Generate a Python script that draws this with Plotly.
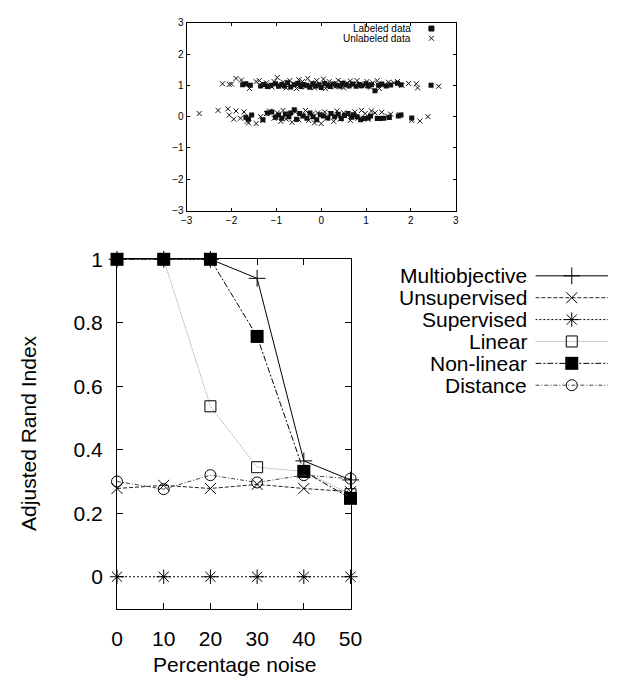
import plotly.graph_objects as go

W, H = 627, 681
FONT = "Liberation Sans, Arial, Helvetica, sans-serif"

# ---------------- data: inset scatter ----------------
upper_unlab_x = [-2.2, -2.05, -2.0, -1.9, -1.78, -1.72, -1.6, -1.45, -1.38, -1.3, -1.22, -1.1, -1.05, -0.98,
                 -0.9, -0.85, -0.78, -0.7, -0.62, -0.55, -0.5, -0.42, -0.35, -0.3, -0.22, -0.15, -0.1, -0.02,
                 0.05, 0.1, 0.18, 0.25, 0.3, 0.38, 0.45, 0.5, 0.58, 0.65, 0.72, 0.8, 0.88, 0.95, 1.02, 1.1,
                 1.15, 1.25, 1.3, 1.42, 1.5, 1.62, 1.7, 1.8, 1.95, 2.12, 2.15, 2.62]
upper_unlab_y = [1.05, 1.03, 1.04, 1.22, 1.17, 1.05, 0.9, 1.12, 1.15, 1.05, 1.08, 0.95, 1.12, 1.25,
                 0.98, 1.1, 0.92, 1.15, 1.05, 0.9, 1.18, 1.12, 0.95, 1.22, 1.08, 0.92, 1.15, 1.02,
                 1.2, 0.9, 1.12, 1.05, 0.95, 1.16, 1.1, 0.92, 1.08, 1.14, 1.02, 1.15, 1.05, 0.98, 1.12, 0.94,
                 1.08, 1.15, 0.9, 1.02, 1.1, 1.08, 1.12, 1.0, 1.06, 1.05, 0.92, 0.97]
upper_lab_x = [-1.75, -1.68, -1.58, -1.35, -1.28, -1.2, -1.12, -1.02, -0.95, -0.88, -0.82, -0.75, -0.68, -0.6,
               -0.52, -0.45, -0.4, -0.32, -0.25, -0.18, -0.12, -0.05, 0.0, 0.08, 0.15, 0.2, 0.28, 0.35,
               0.42, 0.48, 0.55, 0.62, 0.7, 0.78, 0.85, 0.9, 1.0, 1.05, 1.12, 1.2, 1.28, 1.35, 1.45, 1.55,
               1.7, 1.78, 2.45]
upper_lab_y = [1.02, 1.05, 1.0, 0.98, 1.03, 0.96, 1.0, 1.05, 0.97, 1.03, 0.98, 1.08, 0.95, 1.02,
               1.06, 0.96, 1.03, 1.0, 0.94, 1.05, 0.98, 1.02, 0.93, 1.06, 1.0, 0.96, 1.04, 1.0,
               0.97, 1.06, 1.02, 0.98, 1.04, 0.97, 1.03, 0.99, 1.05, 0.98, 1.02, 0.83, 1.0, 1.04, 0.98, 1.01,
               1.07, 1.02, 1.0]
lower_unlab_x = [-2.72, -2.3, -2.08, -2.05, -1.95, -1.9, -1.8, -1.72, -1.65, -1.62, -1.45, -1.35, -1.3, -1.22,
                 -1.15, -1.05, -0.98, -0.9, -0.85, -0.78, -0.72, -0.65, -0.58, -0.5, -0.42, -0.35, -0.28, -0.2,
                 -0.15, -0.08, 0.0, 0.08, 0.12, 0.2, 0.28, 0.35, 0.42, 0.5, 0.58, 0.65, 0.75, 0.82, 0.9, 0.98,
                 1.05, 1.12, 1.2, 1.28, 1.35, 1.48, 1.55, 1.75, 2.02, 2.2, 2.38]
lower_unlab_y = [0.1, 0.2, 0.25, 0.05, -0.08, 0.18, -0.05, 0.15, -0.15, -0.2, -0.22, 0.0, -0.12, 0.1,
                 0.18, -0.05, 0.12, -0.15, 0.2, -0.08, 0.1, -0.18, 0.15, -0.1, 0.05, 0.2, -0.12, 0.08,
                 -0.2, 0.12, -0.22, 0.15, -0.05, 0.1, -0.15, 0.18, -0.08, 0.12, 0.05, -0.12, 0.15, -0.05, 0.2, 0.1,
                 -0.08, 0.18, 0.12, -0.05, 0.14, 0.02, 0.08, 0.06, -0.12, -0.14, 0.0]
lower_lab_x = [-1.68, -1.62, -1.55, -1.3, -1.2, -1.1, -1.02, -0.95, -0.88, -0.8, -0.72, -0.68, -0.6, -0.55,
               -0.48, -0.4, -0.32, -0.25, -0.18, -0.1, -0.02, 0.05, 0.15, 0.22, 0.3, 0.38, 0.45, 0.52,
               0.6, 0.68, 0.72, 0.8, 0.88, 0.95, 1.05, 1.1, 1.25, 1.32, 1.4, 1.52, 1.72, 1.78, 2.02]
lower_lab_y = [-0.02, -0.08, 0.05, -0.1, 0.12, 0.15, -0.02, 0.05, -0.05, 0.08, 0.0, 0.12, 0.22, -0.08,
               0.1, 0.02, -0.05, 0.12, 0.0, -0.1, 0.06, 0.02, -0.04, 0.1, 0.0, 0.08, -0.06, 0.04,
               0.1, -0.02, 0.06, 0.0, -0.1, -0.06, -0.04, 0.02, -0.06, -0.06, -0.05, -0.03, 0.02, 0.05, -0.04]
inset_ticks = [-3, -2, -1, 0, 1, 2, 3]
inset_legend = ["Labeled data", "Unlabeled data"]

# ---------------- data: main line chart ----------------
noise = [0, 10, 20, 30, 40, 50]
series_names = ["Multiobjective", "Unsupervised", "Supervised", "Linear", "Non-linear", "Distance"]
multiobjective = [1.0, 1.0, 1.0, 0.94, 0.365, 0.305]
unsupervised = [0.278, 0.288, 0.278, 0.291, 0.278, 0.268]
supervised = [0.0, 0.0, 0.0, 0.0, 0.0, 0.0]
linear = [1.0, 1.0, 0.537, 0.345, 0.332, 0.26]
nonlinear = [1.0, 1.0, 1.0, 0.757, 0.332, 0.247]
distance = [0.30, 0.276, 0.32, 0.297, 0.32, 0.309]
y_ticks = [0, 0.2, 0.4, 0.6, 0.8, 1]
y_tick_text = ["0", "0.2", "0.4", "0.6", "0.8", "1"]

series_values = [multiobjective, unsupervised, supervised, linear, nonlinear, distance]
styles = [
    dict(line=dict(color="black", width=1, dash="solid"),
         marker=dict(symbol="cross-thin", size=12, color="black", line=dict(color="black", width=1))),
    dict(line=dict(color="#222", width=1, dash="4px,2px"),
         marker=dict(symbol="x-thin", size=11, color="black", line=dict(color="black", width=1))),
    dict(line=dict(color="black", width=1, dash="2px,2px"),
         marker=dict(symbol="asterisk", size=12, color="black", line=dict(color="black", width=1))),
    dict(line=dict(color="#999", width=1, dash="1px,1px"),
         marker=dict(symbol="square-open", size=11, color="black", line=dict(color="black", width=1))),
    dict(line=dict(color="black", width=1, dash="6px,2px,2px,2px"),
         marker=dict(symbol="square", size=13, color="black", line=dict(color="black", width=0))),
    dict(line=dict(color="#444", width=1, dash="4px,2px,1px,2px"),
         marker=dict(symbol="circle-open", size=11, color="black", line=dict(color="black", width=1))),
]


def px_x(p):
    return p / W


def px_y(p):
    return 1 - p / H


fig = go.Figure()

# inset scatter
lab_marker = dict(symbol="square", size=5, color="#111")
unlab_marker = dict(symbol="x-thin", size=5, color="#111", line=dict(color="#111", width=1))
for xs, ys in [(upper_unlab_x, upper_unlab_y), (lower_unlab_x, lower_unlab_y)]:
    fig.add_trace(go.Scatter(x=xs, y=ys, mode="markers", marker=unlab_marker,
                             xaxis="x", yaxis="y", showlegend=False, hoverinfo="skip"))
for xs, ys in [(upper_lab_x, upper_lab_y), (lower_lab_x, lower_lab_y)]:
    fig.add_trace(go.Scatter(x=xs, y=ys, mode="markers", marker=lab_marker,
                             xaxis="x", yaxis="y", showlegend=False, hoverinfo="skip"))

# inset legend samples (own axis)
fig.add_trace(go.Scatter(x=[0.5, 0.5], y=[0, 1], mode="markers",
                         marker=dict(symbol=["square", "x-thin"], size=5, color="#111",
                                     line=dict(color="#111", width=1)),
                         xaxis="x4", yaxis="y4", showlegend=False, hoverinfo="skip"))

# main lines
for name, vals, st in zip(series_names, series_values, styles):
    fig.add_trace(go.Scatter(x=noise, y=vals, mode="lines+markers", name=name,
                             line=st["line"], marker=st["marker"], cliponaxis=False,
                             xaxis="x2", yaxis="y2", showlegend=False))

# main legend samples (own axis)
for i, (name, st) in enumerate(zip(series_names, styles)):
    fig.add_trace(go.Scatter(x=[0, 1], y=[i, i], mode="lines", line=st["line"],
                             xaxis="x3", yaxis="y3", showlegend=False, hoverinfo="skip"))
    fig.add_trace(go.Scatter(x=[0.5], y=[i], mode="markers", marker=st["marker"],
                             cliponaxis=False,
                             xaxis="x3", yaxis="y3", showlegend=False, hoverinfo="skip"))

common = dict(showgrid=False, zeroline=False, showline=True, linecolor="black", linewidth=1,
              mirror="ticks", ticks="inside", tickcolor="black")

fig.update_layout(
    width=W, height=H, margin=dict(l=0, r=0, t=0, b=0),
    paper_bgcolor="white", plot_bgcolor="white",
    font=dict(family=FONT, color="black"),
    xaxis=dict(domain=[px_x(186), px_x(463)], range=[-3, 3], tickvals=inset_ticks,
               ticklen=3, tickfont=dict(size=10), anchor="y", **common),
    yaxis=dict(domain=[px_y(204), px_y(11)], range=[-3, 3], tickvals=inset_ticks,
               ticklen=3, tickfont=dict(size=10), anchor="x", **common),
    xaxis2=dict(domain=[px_x(114.3), px_x(354.7)], range=[0, 50], tickvals=noise,
                ticklen=6, tickfont=dict(size=21), ticklabelstandoff=11, anchor="y2", **common),
    yaxis2=dict(domain=[px_y(612.7), px_y(254)], range=[-0.1, 1], tickvals=y_ticks,
                ticktext=y_tick_text, ticklen=6, tickfont=dict(size=21), ticklabelstandoff=9,
                anchor="x2", **common),
    xaxis3=dict(domain=[px_x(545), px_x(620)], range=[0, 1], visible=False, anchor="y3"),
    yaxis3=dict(domain=[px_y(390), px_y(264)], range=[5.296, -0.3115], visible=False, anchor="x3"),
    xaxis4=dict(domain=[px_x(433), px_x(443)], range=[0, 1], visible=False, anchor="y4"),
    yaxis4=dict(domain=[px_y(32), px_y(12)], range=[1.5, -0.5], visible=False, anchor="x4"),
)

annotations = []
for i, name in enumerate(series_names):
    annotations.append(dict(text=name, x=px_x(538), y=px_y(271 + i * 22.47), xref="paper", yref="paper",
                            xanchor="right", yanchor="middle", showarrow=False,
                            font=dict(size=21, family=FONT)))
for i, name in enumerate(inset_legend):
    annotations.append(dict(text=name, x=px_x(419), y=px_y(17 + i * 10), xref="paper", yref="paper",
                            xanchor="right", yanchor="middle", showarrow=False,
                            font=dict(size=10, family=FONT)))
annotations.append(dict(text="Adjusted Rand Index", x=px_x(23), y=px_y(433), xref="paper", yref="paper",
                        textangle=-90, xanchor="center", yanchor="middle", showarrow=False,
                        font=dict(size=21, family=FONT)))
annotations.append(dict(text="Percentage noise", x=px_x(235), y=px_y(670), xref="paper", yref="paper",
                        xanchor="center", yanchor="middle", showarrow=False,
                        font=dict(size=21, family=FONT)))
fig.update_layout(annotations=annotations)

fig.write_html("out.html",
               config={"displayModeBar": False},
               post_script="document.body.style.margin='0px';document.body.style.overflow='hidden';")
